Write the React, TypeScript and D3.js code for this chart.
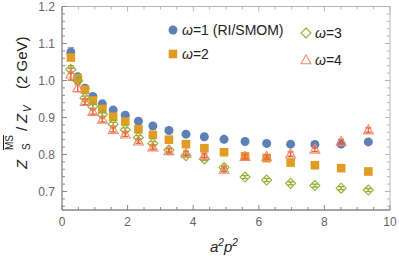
import * as d3 from "d3";

// a^2 p^2 momenta
const a2p2 = [0.27, 0.48, 0.7, 0.94, 1.23, 1.56, 1.93, 2.33, 2.77, 3.26, 3.78, 4.34, 4.94, 5.58, 6.24, 6.97, 7.71, 8.51, 9.34];

const omega1 = [1.076, 1.01, 0.979, 0.957, 0.937, 0.92, 0.906, 0.89, 0.877, 0.865, 0.855, 0.848, 0.841, 0.835, 0.83, 0.828, 0.827, 0.828, 0.834];
const omega1Err = [0.012, 0.004, 0.003, 0.003, 0.003, 0.002, 0.002, 0.002, 0.002, 0.002, 0.002, 0.002, 0.002, 0.002, 0.002, 0.002, 0.002, 0.002, 0.002];

const omega2 = [1.062, 1.006, 0.975, 0.946, 0.923, 0.902, 0.889, 0.868, 0.853, 0.84, 0.828, 0.817, 0.806, 0.795, 0.79, 0.778, 0.771, 0.763, 0.754];
const omega2Err = [0.006, 0.003, 0.003, 0.003, 0.002, 0.002, 0.002, 0.002, 0.002, 0.002, 0.002, 0.002, 0.002, 0.002, 0.002, 0.002, 0.002, 0.002, 0.002];

const omega3 = [1.03, 1.0, 0.953, 0.93, 0.908, 0.882, 0.867, 0.846, 0.83, 0.812, 0.797, 0.788, 0.765, 0.739, 0.731, 0.722, 0.716, 0.709, 0.704];
const omega3Err = [0.01, 0.006, 0.005, 0.005, 0.005, 0.005, 0.005, 0.005, 0.005, 0.004, 0.004, 0.004, 0.004, 0.004, 0.004, 0.004, 0.004, 0.004, 0.004];

const omega4 = [1.017, 0.98, 0.943, 0.916, 0.895, 0.867, 0.855, 0.836, 0.82, 0.81, 0.803, 0.797, 0.76, 0.794, 0.794, 0.801, 0.814, 0.835, 0.866];
const omega4Err = [0.016, 0.01, 0.008, 0.007, 0.007, 0.006, 0.006, 0.006, 0.006, 0.006, 0.006, 0.006, 0.006, 0.006, 0.006, 0.006, 0.006, 0.006, 0.006];

const legendLabels = ["=1 (RI/SMOM)", "=2", "=3", "=4"];
const xTicks = [0, 2, 4, 6, 8, 10];
const yTicks = [0.7, 0.8, 0.9, 1.0, 1.1, 1.2];

const W = 399;
const H = 260;
const FONT = "'Liberation Sans', Arial, sans-serif";

type Marker = "circle" | "square" | "diamond" | "triangle";

const series: { values: number[]; errs: number[]; color: string; marker: Marker }[] = [
  { values: omega1, errs: omega1Err, color: "#5e81b5", marker: "circle" },
  { values: omega2, errs: omega2Err, color: "#e19c24", marker: "square" },
  { values: omega3, errs: omega3Err, color: "#8fb032", marker: "diamond" },
  { values: omega4, errs: omega4Err, color: "#eb6235", marker: "triangle" },
];

function drawMarker(m: Marker, cx: number, cy: number, color: string, key: string) {
  if (m === "circle") return <circle key={key} cx={cx} cy={cy} r={4.5} fill={color} />;
  if (m === "square")
    return <rect key={key} x={cx - 4.3} y={cy - 4.3} width={8.6} height={8.6} fill={color} />;
  if (m === "diamond")
    return (
      <path
        key={key}
        d={`M${cx},${cy - 5}L${cx + 5},${cy}L${cx},${cy + 5}L${cx - 5},${cy}Z`}
        fill="none"
        stroke={color}
        strokeWidth={1.1}
      />
    );
  return (
    <path
      key={key}
      d={`M${cx},${cy - 5.2}L${cx + 4.9},${cy + 3.8}L${cx - 4.9},${cy + 3.8}Z`}
      fill="none"
      stroke="#f08a6c"
      strokeWidth={1.1}
    />
  );
}

export default function App() {
  const x = d3.scaleLinear().domain([0, 10]).range([62, 390]);
  const y = d3.scaleLinear().domain([0.65, 1.2]).range([210, 6.5]);
  const [x0, x1] = x.range();
  const [y0, y1] = y.range();

  const xMinor = d3.range(0, 10.001, 0.5);
  const yMinor = d3.range(0.66, 1.2001, 0.02);

  return (
    <svg
      width={W}
      height={H}
      style={{ position: "absolute", left: 0, top: 0, background: "#fff" }}
      fontFamily={FONT}
    >
      {/* frame: top & right light */}
      <line x1={x0} x2={x1} y1={y1} y2={y1} stroke="#b5b5b5" strokeWidth={1} />
      <line x1={x1} x2={x1} y1={y0} y2={y1} stroke="#b5b5b5" strokeWidth={1} />
      {xMinor.map((v, i) => {
        const major = Math.abs(v / 2 - Math.round(v / 2)) < 1e-6;
        const len = major ? 5 : 3;
        return (
          <g key={`xt${i}`}>
            <line x1={x(v)} x2={x(v)} y1={y0} y2={y0 - len} stroke="#888" />
            <line x1={x(v)} x2={x(v)} y1={y1} y2={y1 + len} stroke="#b5b5b5" />
          </g>
        );
      })}
      {yMinor.map((v, i) => {
        const major = Math.abs(v * 10 - Math.round(v * 10)) < 1e-6;
        const len = major ? 5 : 3;
        return (
          <g key={`yt${i}`}>
            <line x1={x0} x2={x0 + len} y1={y(v)} y2={y(v)} stroke="#888" />
            <line x1={x1} x2={x1 - len} y1={y(v)} y2={y(v)} stroke="#b5b5b5" />
          </g>
        );
      })}
      <line x1={x0} x2={x1} y1={y0} y2={y0} stroke="#888" strokeWidth={1.3} />
      <line x1={x0} x2={x0} y1={y0} y2={y1} stroke="#888" strokeWidth={1.3} />

      {xTicks.map((v) => (
        <text key={`xl${v}`} x={x(v)} y={y0 + 15.5} fontSize={12} fill="#666" textAnchor="middle">
          {v}
        </text>
      ))}
      {yTicks.map((v) => (
        <text key={`yl${v}`} x={x0 - 7} y={y(v) + 4.3} fontSize={12} fill="#666" textAnchor="end">
          {v.toFixed(1)}
        </text>
      ))}

      {/* data */}
      {series.map((s, si) => (
        <g key={`s${si}`}>
          {s.values.map((v, i) => {
            const cx = x(a2p2[i]);
            const top = y(v + s.errs[i]);
            const bot = y(v - s.errs[i]);
            return (
              <g key={`e${i}`} stroke={s.color} strokeWidth={1.4}>
                <line x1={cx} x2={cx} y1={top} y2={bot} />
                <line x1={cx - 3} x2={cx + 3} y1={top} y2={top} />
                <line x1={cx - 3} x2={cx + 3} y1={bot} y2={bot} />
              </g>
            );
          })}
          {s.values.map((v, i) => drawMarker(s.marker, x(a2p2[i]), y(v), s.color, `m${i}`))}
        </g>
      ))}

      {/* legend */}
      {[
        [173, 30],
        [173, 54],
        [306, 33],
        [306, 60],
      ].map(([lx, ly], i) => (
        <g key={`lg${i}`}>
          {drawMarker(series[i].marker, lx, ly, series[i].color, `lm${i}`)}
          <text x={lx + 9} y={ly + 4.8} fontSize={14} fill="#222">
            <tspan fontStyle="italic">ω</tspan>
            {legendLabels[i]}
          </text>
        </g>
      ))}

      {/* y label */}
      <g transform="translate(27,0) rotate(-90)" fill="#222" fontSize={15}>
        <text x={-169} y={0} fontStyle="italic">Z</text>
        <text x={-150} y={-14} fontSize={10} textDecoration="overline">MS</text>
        <text x={-150} y={3} fontSize={10}>S</text>
        <text x={-131} y={0}>/</text>
        <text x={-123} y={0} fontStyle="italic">Z</text>
        <text x={-112} y={3.5} fontSize={10} fontStyle="italic">V</text>
        <text x={-89} y={0}>(2 GeV)</text>
      </g>

      {/* x label */}
      <text x={210} y={252} fontSize={15} fill="#222" fontStyle="italic">
        a<tspan dy={-6} fontSize={10}>2</tspan>
        <tspan dy={6}>p</tspan>
        <tspan dy={-6} fontSize={10}>2</tspan>
      </text>
    </svg>
  );
}
